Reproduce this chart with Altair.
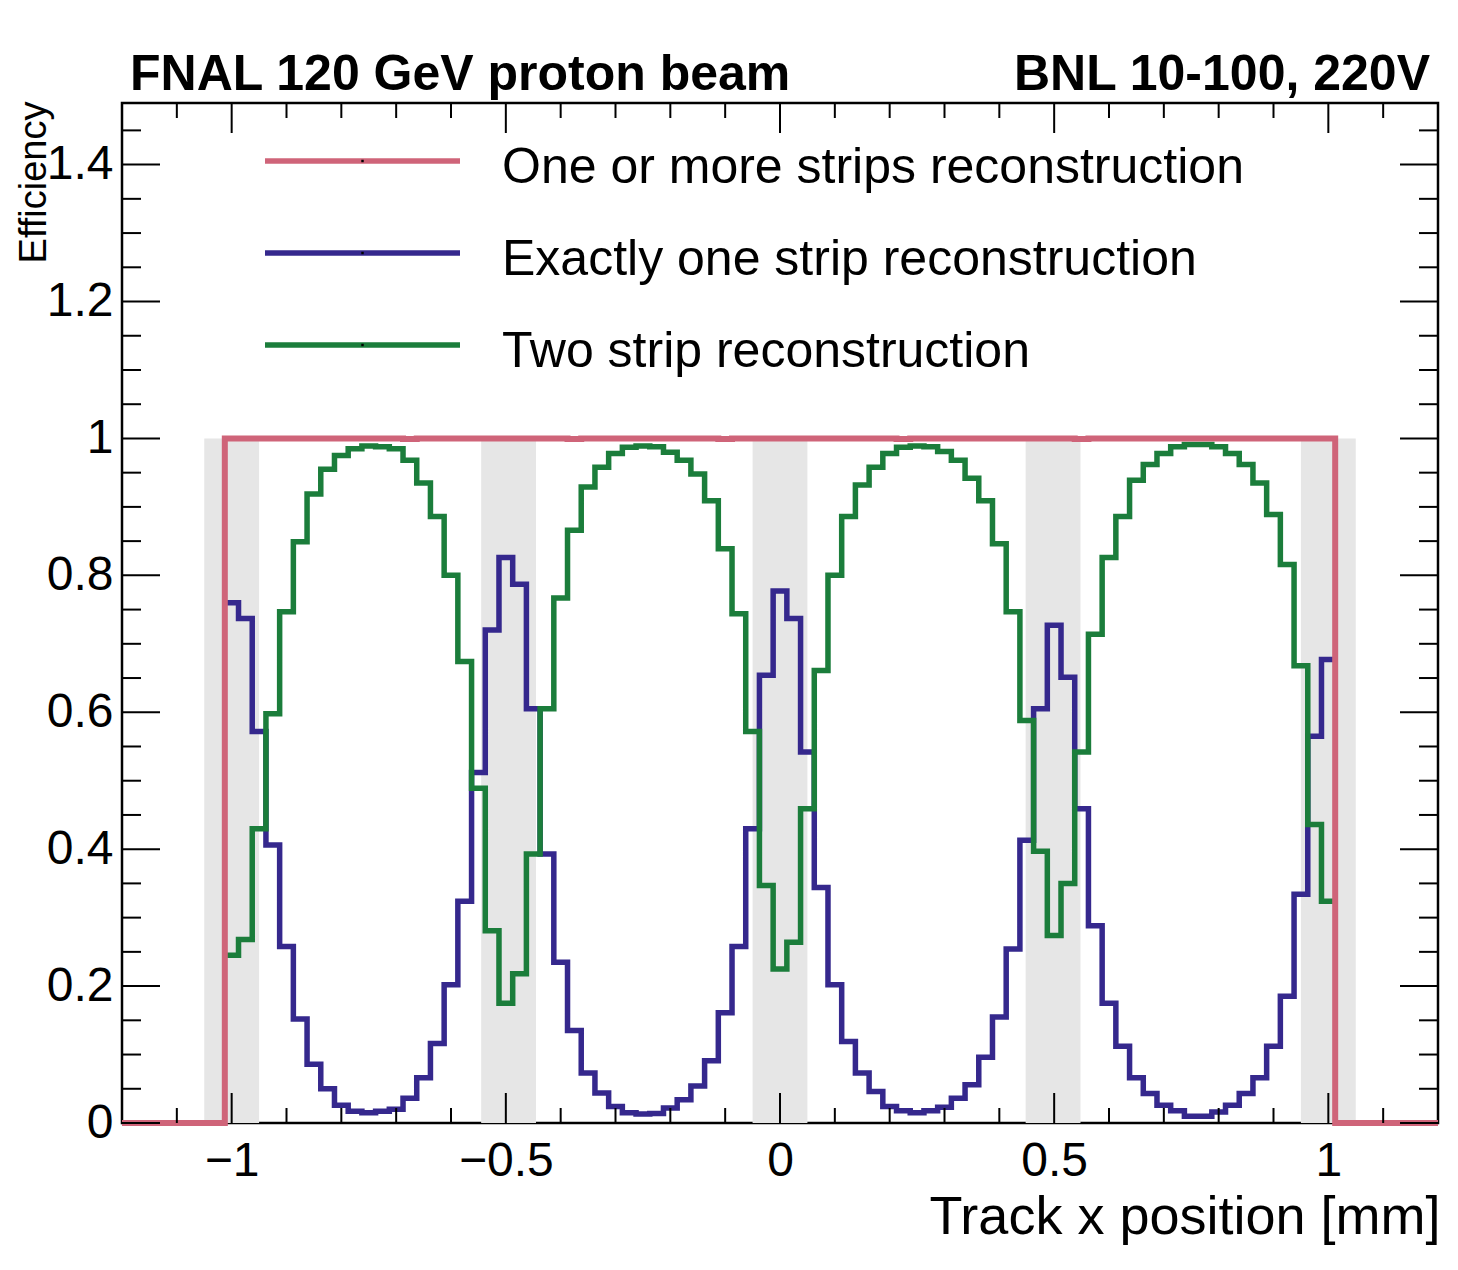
import altair as alt
import pandas as pd

# ---------------- data ----------------
BIN_FIRST_EDGE = -1.0125
BIN_WIDTH = 0.025  # 81 bins, centres -1.0 ... 1.0

EXACTLY_ONE = [
    0.760, 0.737, 0.572, 0.406, 0.258, 0.152, 0.086, 0.050, 0.026, 0.017,
    0.015, 0.017, 0.020, 0.036, 0.066, 0.116, 0.202, 0.324, 0.512, 0.720,
    0.826, 0.787, 0.605, 0.393, 0.235, 0.135, 0.073, 0.044, 0.024, 0.015,
    0.013, 0.014, 0.022, 0.034, 0.054, 0.091, 0.161, 0.258, 0.430, 0.654,
    0.777, 0.737, 0.542, 0.344, 0.202, 0.119, 0.073, 0.046, 0.024, 0.018,
    0.015, 0.018, 0.023, 0.036, 0.056, 0.096, 0.155, 0.254, 0.413, 0.605,
    0.727, 0.651, 0.459, 0.288, 0.175, 0.112, 0.066, 0.043, 0.026, 0.018,
    0.010, 0.010, 0.016, 0.026, 0.043, 0.066, 0.112, 0.185, 0.334, 0.565,
    0.677,
]

TWO_STRIP = [
    0.245, 0.268, 0.430, 0.598, 0.747, 0.849, 0.919, 0.955, 0.975, 0.985,
    0.989, 0.988, 0.985, 0.968, 0.935, 0.886, 0.800, 0.674, 0.489, 0.281,
    0.175, 0.218, 0.393, 0.605, 0.767, 0.866, 0.929, 0.958, 0.978, 0.987,
    0.989, 0.988, 0.980, 0.968, 0.948, 0.909, 0.839, 0.744, 0.572, 0.347,
    0.225, 0.264, 0.459, 0.661, 0.800, 0.886, 0.932, 0.958, 0.978, 0.987,
    0.989, 0.988, 0.981, 0.968, 0.942, 0.909, 0.846, 0.747, 0.588, 0.397,
    0.274, 0.350, 0.542, 0.714, 0.826, 0.886, 0.939, 0.962, 0.978, 0.988,
    0.991, 0.991, 0.988, 0.978, 0.962, 0.935, 0.889, 0.816, 0.668, 0.436,
    0.324,
]

ONE_OR_MORE = [
    1.000, 1.000, 1.000, 1.000, 1.000, 1.000, 1.000, 1.000, 1.000, 1.000,
    1.000, 1.000, 1.000, 0.999, 1.000, 1.000, 1.000, 1.000, 1.000, 1.000,
    1.000, 1.000, 1.000, 1.000, 1.000, 0.999, 1.000, 1.000, 1.000, 1.000,
    1.000, 1.000, 1.000, 1.000, 1.000, 1.000, 0.999, 1.000, 1.000, 1.000,
    1.000, 1.000, 1.000, 1.000, 1.000, 1.000, 1.000, 1.000, 1.000, 0.999,
    1.000, 1.000, 1.000, 1.000, 1.000, 1.000, 1.000, 1.000, 1.000, 1.000,
    1.000, 1.000, 0.999, 1.000, 1.000, 1.000, 1.000, 1.000, 1.000, 1.000,
    1.000, 1.000, 1.000, 1.000, 1.000, 1.000, 1.000, 1.000, 1.000, 1.000,
    1.000,
]

BAND_LO = [-1.05, -0.545, -0.05, 0.448, 0.95]
BAND_HI = [-0.95, -0.445, 0.05, 0.548, 1.05]
BAND_BOTTOM = 0.0
BAND_TOP = 1.0

X_DOMAIN = [-1.2, 1.2]
Y_DOMAIN = [0.0, 1.49]
X_MAJOR = [-1, -0.5, 0, 0.5, 1]
X_MINOR = [-1.1, -0.9, -0.8, -0.7, -0.6, -0.4, -0.3, -0.2, -0.1,
           0.1, 0.2, 0.3, 0.4, 0.6, 0.7, 0.8, 0.9, 1.1]
Y_MAJOR = [0, 0.2, 0.4, 0.6, 0.8, 1.0, 1.2, 1.4]
Y_MINOR = [0.05, 0.1, 0.15, 0.25, 0.3, 0.35, 0.45, 0.5, 0.55, 0.65, 0.7, 0.75,
           0.85, 0.9, 0.95, 1.05, 1.1, 1.15, 1.25, 1.3, 1.35, 1.45]

SERIES_NAMES = ["One or more strips reconstruction",
                "Exactly one strip reconstruction",
                "Two strip reconstruction"]
SERIES_COLORS = ["#cf6479", "#35288d", "#1b7d3b"]

TITLE_LEFT = "FNAL 120 GeV proton beam"
TITLE_RIGHT = "BNL 10-100, 220V"
X_TITLE = "Track x position [mm]"
Y_TITLE = "Efficiency"

# ---------------- layout / style ----------------
FONT = "Liberation Sans"
W, H = 1316, 1020
BAND_COLOR = "#e6e6e6"
LINE_W = 5.5
RED_W = 6
X_MAJOR_LEN, X_MINOR_LEN = 30, 15
Y_MAJOR_LEN, Y_MINOR_LEN = 38, 19
LEG_LINE_X0, LEG_LINE_X1, LEG_TEXT_X = 143, 338, 380
LEG_Y0, LEG_DY = 58, 92

xs = alt.Scale(domain=X_DOMAIN, nice=False, zero=False)
ys = alt.Scale(domain=Y_DOMAIN, nice=False, zero=False)

x_axis = alt.Axis(values=X_MAJOR, format="~g", labelFontSize=48, labelFont=FONT,
                  labelColor="black", ticks=False, domain=False, grid=False,
                  labelPadding=14, labelFlush=False, labelOverlap=False,
                  title=X_TITLE, titleFont=FONT, titleFontSize=54,
                  titleFontWeight="normal", titleColor="black",
                  titleAnchor="end", titleAlign="right", titleBaseline="alphabetic",
                  titleX=W + 2, titleY=110)
y_axis = alt.Axis(values=Y_MAJOR, format="~g", labelFontSize=48, labelFont=FONT,
                  labelColor="black", ticks=False, domain=False, grid=False,
                  labelPadding=9, labelFlush=False, labelOverlap=False,
                  title=Y_TITLE, titleFont=FONT, titleFontSize=38,
                  titleFontWeight="normal", titleColor="black", titleAngle=270,
                  titleAnchor="end", titleAlign="right", titleBaseline="alphabetic",
                  titleX=-77, titleY=-2)


def X(field):
    return alt.X(field, scale=xs, axis=x_axis)


def Y(field):
    return alt.Y(field, scale=ys, axis=y_axis)


edges = [round(BIN_FIRST_EDGE + BIN_WIDTH * i, 5) for i in range(len(EXACTLY_ONE) + 1)]


def step_frame(vals):
    return pd.DataFrame({"x": edges, "y": list(vals) + [vals[-1]]})


red_df = pd.DataFrame({
    "x": [X_DOMAIN[0]] + edges + [X_DOMAIN[1]],
    "y": [0.0] + ONE_OR_MORE + [0.0, 0.0],
})

bands = alt.Chart(pd.DataFrame({"x": BAND_LO, "x2": BAND_HI,
                                "y": [BAND_BOTTOM] * len(BAND_LO),
                                "y2": [BAND_TOP] * len(BAND_LO)})).mark_rect(
    color=BAND_COLOR).encode(x=X("x:Q"), x2="x2:Q", y=Y("y:Q"), y2="y2:Q")

blue = alt.Chart(step_frame(EXACTLY_ONE)).mark_line(
    interpolate="step-after", color=SERIES_COLORS[1], strokeWidth=LINE_W,
    strokeJoin="miter").encode(x=X("x:Q"), y=Y("y:Q"))

green = alt.Chart(step_frame(TWO_STRIP)).mark_line(
    interpolate="step-after", color=SERIES_COLORS[2], strokeWidth=LINE_W,
    strokeJoin="miter").encode(x=X("x:Q"), y=Y("y:Q"))

red = alt.Chart(red_df).mark_line(
    interpolate="step-after", color=SERIES_COLORS[0], strokeWidth=RED_W,
    strokeJoin="miter").encode(x=X("x:Q"), y=Y("y:Q"))


def xticks(vals, length):
    d = pd.DataFrame({"x": vals})
    bot = alt.Chart(d).mark_rule(color="black", strokeWidth=2).encode(
        x=X("x:Q"), y=alt.value(H), y2=alt.value(H - length))
    top = alt.Chart(d).mark_rule(color="black", strokeWidth=2).encode(
        x=X("x:Q"), y=alt.value(0), y2=alt.value(length))
    return [bot, top]


def yticks(vals, length):
    d = pd.DataFrame({"y": vals})
    lft = alt.Chart(d).mark_rule(color="black", strokeWidth=2).encode(
        y=Y("y:Q"), x=alt.value(0), x2=alt.value(length))
    rgt = alt.Chart(d).mark_rule(color="black", strokeWidth=2).encode(
        y=Y("y:Q"), x=alt.value(W), x2=alt.value(W - length))
    return [lft, rgt]


tick_layers = (xticks(X_MAJOR, X_MAJOR_LEN) + xticks(X_MINOR, X_MINOR_LEN)
               + yticks(Y_MAJOR, Y_MAJOR_LEN) + yticks(Y_MINOR, Y_MINOR_LEN))

one = pd.DataFrame({"a": [0]})
legend_layers = []
for i, (name, col) in enumerate(zip(SERIES_NAMES, SERIES_COLORS)):
    ry = LEG_Y0 + i * LEG_DY
    legend_layers.append(alt.Chart(one).mark_rule(color=col, strokeWidth=LINE_W).encode(
        x=alt.value(LEG_LINE_X0), x2=alt.value(LEG_LINE_X1), y=alt.value(ry)))
    legend_layers.append(alt.Chart(one).mark_square(color="black", size=6, opacity=1).encode(
        x=alt.value((LEG_LINE_X0 + LEG_LINE_X1) / 2), y=alt.value(ry)))
    legend_layers.append(alt.Chart(one).mark_text(
        align="left", baseline="alphabetic", fontSize=50, font=FONT, color="black").encode(
        x=alt.value(LEG_TEXT_X), y=alt.value(ry + 22), text=alt.value(name)))

title_left = alt.Chart(one).mark_text(
    align="left", baseline="alphabetic", fontSize=50, fontWeight="bold", font=FONT,
    color="black").encode(x=alt.value(8), y=alt.value(-13), text=alt.value(TITLE_LEFT))
title_right = alt.Chart(one).mark_text(
    align="right", baseline="alphabetic", fontSize=50, fontWeight="bold", font=FONT,
    color="black").encode(x=alt.value(W - 8), y=alt.value(-13), text=alt.value(TITLE_RIGHT))

chart = alt.layer(
    bands, blue, green, red, *tick_layers, *legend_layers, title_left, title_right
).properties(
    width=W, height=H,
    autosize=alt.AutoSizeParams(type="none"),
    padding={"left": 114, "top": 95, "right": 12, "bottom": 130},
    background="white",
).configure_view(stroke="black", strokeWidth=2.5)

chart.save("out.html", embed_options={"renderer": "svg", "actions": False})
